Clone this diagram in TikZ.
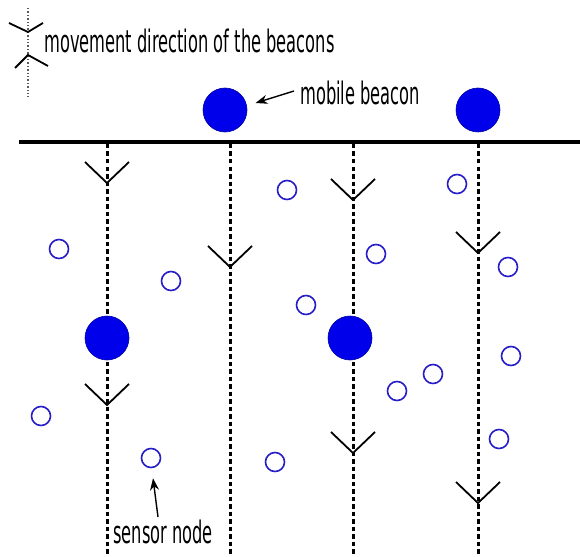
\documentclass[tikz,border=0pt]{standalone}
\usepackage{fontspec}
\setmainfont{DejaVu Sans}
\usetikzlibrary{arrows.meta,calc}
\definecolor{beaconblue}{RGB}{0,0,235}
\definecolor{sensorblue}{RGB}{40,30,200}
\tikzset{
  beacon/.style={circle,fill=beaconblue,draw=beaconblue!70!black,line width=0.6pt,minimum size=44pt,inner sep=0pt},
  sensor/.style={circle,draw=sensorblue,line width=1.6pt,minimum size=19pt,inner sep=0pt},
  track/.style={line width=3pt,dash pattern=on 4.5pt off 3pt},
  chev/.style={line width=1.8pt,line join=miter},
  lbl/.style={anchor=base west,inner sep=0pt,font=\fontsize{31}{33}\selectfont},
  pointer/.style={line width=1.4pt,-{Stealth[length=12pt,width=9pt]}}
}
\newcommand{\squeeze}[1]{\scalebox{0.525}[1]{#1}}
\begin{document}
\begin{tikzpicture}[x=1pt,y=-1pt]
\useasboundingbox (0,0) rectangle (580,556);
% legend
\coordinate (lt) at (28,8);
\coordinate (lb) at (28,97);
\draw[dotted,line width=1.4pt,gray!70!black] (lt) -- (lb);
\draw[chev] (9,23) -- (28,32) -- (43,23);
\draw[chev] (15,68) -- (28,55) -- (48,66);
\node[lbl] (legtxt) at (44,53) {\squeeze{movement direction of the beacons}};
% ground line
\coordinate (gl) at (19,142);
\coordinate (gr) at (580,142);
\draw[line width=3.2pt] (gl) -- (gr);
% tracks
\foreach \x/\n in {107/1,230/2,353/3,478/4}{
  \coordinate (t\n) at (\x,144);
  \coordinate (u\n) at (\x,556);
  \draw[track] (t\n) -- (u\n);
}
% chevrons
\foreach \x/\y in {107/183,107/405,230/267,353/200,353/453,478/253,478/503}{
  \draw[chev] (\x-22,\y-21) -- (\x,\y) -- (\x+22,\y-21);
}
% beacons
\node[beacon] (b1) at (225,110) {};
\node[beacon] (b2) at (478,110) {};
\node[beacon] (b3) at (107,338) {};
\node[beacon] (b4) at (350,338) {};
% sensors
\foreach \x/\y [count=\i] in {287/190,457/184,59/249,376/254,171/281,508/267,306/305,511/356,433/374,397/391,41/416,499/439,151/458,275/462}{
  \node[sensor] (s\i) at (\x,\y) {};
}
% labels
\node[lbl] (mb) at (300,105) {\squeeze{mobile beacon}};
\coordinate (mbtail) at (294,91);
\draw[pointer] (mbtail) -- ($(b1)!1.37!(b1.east)+(0,-7)$);
\node[lbl] (sn) at (113,543) {\squeeze{sensor node}};
\coordinate (sntail) at (158,517);
\draw[pointer] (sntail) -- ($(s13.south)+(2,10)$);
\end{tikzpicture}
\end{document}
